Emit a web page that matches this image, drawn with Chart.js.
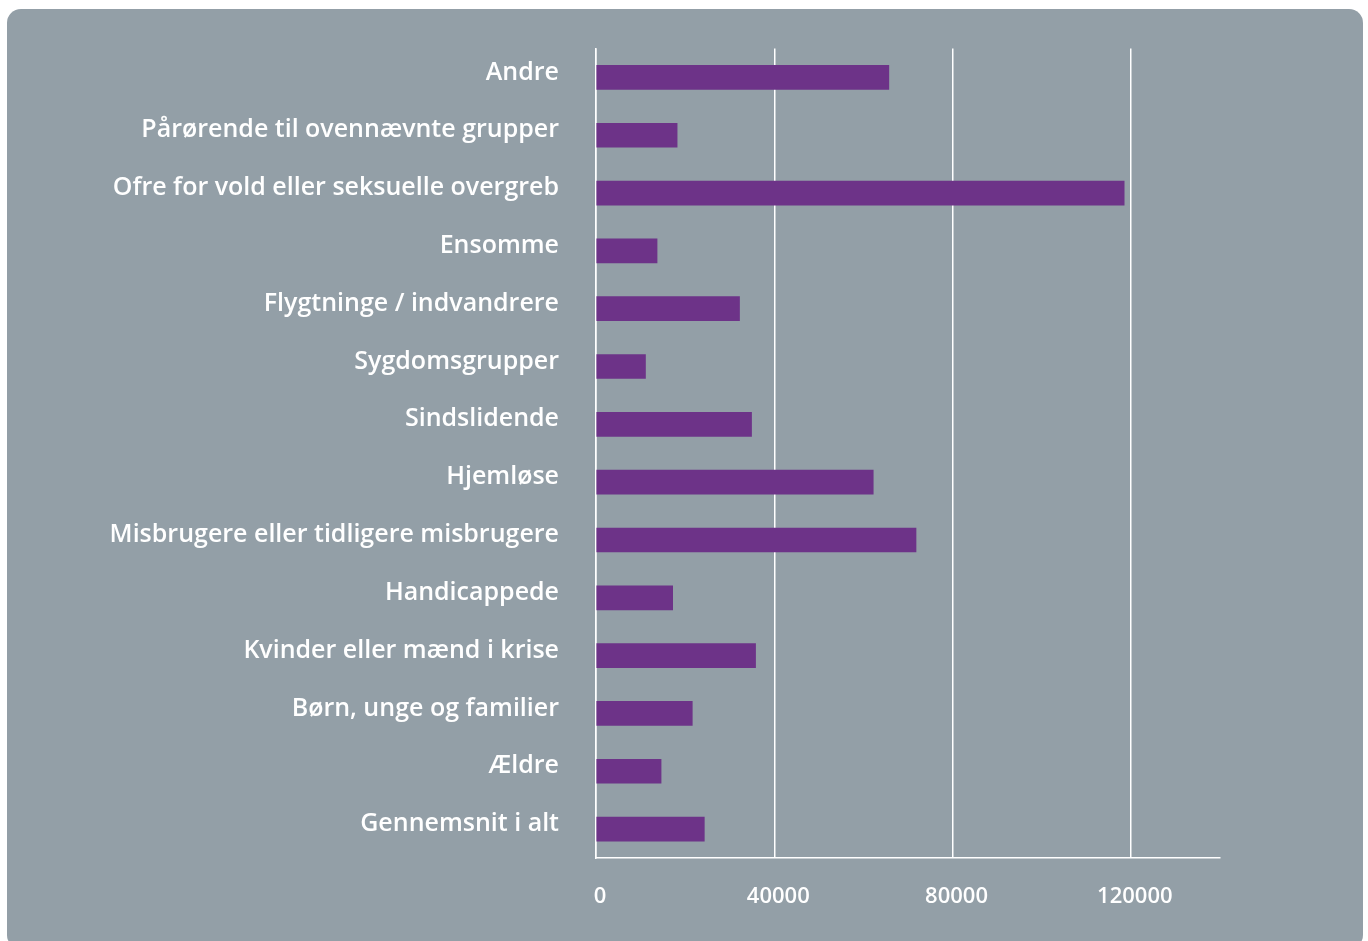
<!DOCTYPE html>
<html>
<head>
<meta charset="utf-8">
<script src="https://cdn.jsdelivr.net/npm/chart.js@4.4.1/dist/chart.umd.min.js"></script>
<style>
  html, body { margin: 0; padding: 0; background: #fff; }
  #panel {
    position: absolute; left: 7px; top: 9px; width: 1356px; height: 940px;
    background: #939fa7; border-radius: 14px;
  }
  #wrap { position: absolute; left: 0; top: 0; width: 1368px; height: 941px; }
</style>
</head>
<body>
<div id="panel"></div>
<div id="wrap"><canvas id="chart"></canvas></div>
<script>
const categories = [
  'Andre',
  'Pårørende til ovennævnte grupper',
  'Ofre for vold eller seksuelle overgreb',
  'Ensomme',
  'Flygtninge / indvandrere',
  'Sygdomsgrupper',
  'Sindslidende',
  'Hjemløse',
  'Misbrugere eller tidligere misbrugere',
  'Handicappede',
  'Kvinder eller mænd i krise',
  'Børn, unge og familier',
  'Ældre',
  'Gennemsnit i alt'
];
const values = [65700, 18200, 118500, 13700, 32200, 11100, 34900, 62200, 71800, 17200, 35800, 21600, 14600, 24300];
const xTicks = [0, 40000, 80000, 120000];
const xMax = 140000;

const fontFamily = '"Open Sans", "Noto Sans", sans-serif';

new Chart(document.getElementById('chart'), {
  type: 'bar',
  data: {
    labels: categories,
    datasets: [{
      data: values,
      backgroundColor: '#6d3388',
      borderWidth: 0,
      barThickness: 24
    }]
  },
  options: {
    indexAxis: 'y',
    responsive: true,
    maintainAspectRatio: false,
    animation: false,
    layout: { padding: { left: 0, top: 48.5, right: 148, bottom: 0 } },
    plugins: { legend: { display: false }, tooltip: { enabled: false } },
    scales: {
      x: {
        min: 0,
        max: xMax,
        afterBuildTicks: (scale) => { scale.ticks = xTicks.map(v => ({ value: v })); },
        afterFit: (scale) => { scale.height = 83; },
        grid: { color: '#ffffff', lineWidth: 1.5, drawTicks: false },
        border: { color: '#ffffff', width: 1.5 },
        ticks: {
          color: '#ffffff',
          padding: 26,
          labelOffset: 4,
          callback: (v) => String(v),
          font: { family: fontFamily, size: 22, weight: 600 },
          maxRotation: 0
        }
      },
      y: {
        afterFit: (scale) => {
          scale.width = 596;
          scale.paddingTop = 0;
          scale.paddingBottom = 0;
        },
        grid: { display: false, drawTicks: false },
        border: { color: '#ffffff', width: 1.5 },
        ticks: {
          color: '#ffffff',
          padding: 37,
          labelOffset: -5,
          autoSkip: false,
          font: { family: fontFamily, size: 25, weight: 600 }
        }
      }
    }
  }
});
</script>
</body>
</html>
